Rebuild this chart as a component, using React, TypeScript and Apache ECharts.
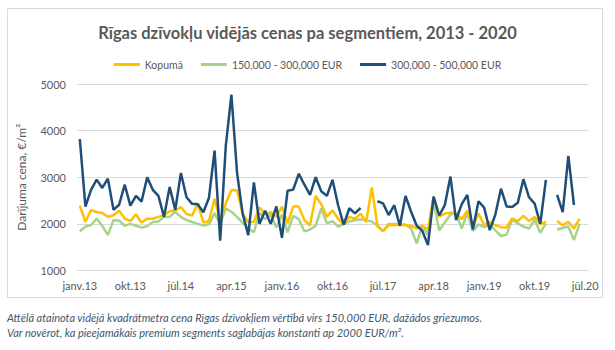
import React, { useEffect, useRef } from "react";
import * as echarts from "echarts";

const monthNames = ["janv.", "febr.", "marts", "apr.", "maijs", "jūn.", "jūl.", "aug.", "sept.", "okt.", "nov.", "dec."];
const yearNames = ["13", "14", "15", "16", "17", "18", "19", "20"];
const monthCount = 91;

const categories: string[] = [];
for (const y of yearNames) {
  for (const m of monthNames) {
    if (categories.length < monthCount) categories.push(m + y);
  }
}

const seriesNames = ["Kopumā", "150,000 - 300,000 EUR", "300,000 - 500,000 EUR"];

const kopuma = [
  2390, 2045, 2295, 2255, 2235, 2150, 2185, 2280, 2115, 2060, 2205, 2025, 2115, 2110, 2150,
  2185, 2270, 2290, 2360, 2210, 2180, 2440, 2030, 2060, 2540, 2080, 2440, 2720, 2720, 2220,
  2040, 2040, 2350, 2210, 2250, 2150, 2370, 2010, 2370, 2370, 2080, 1965, 2600, 2420, 2155,
  2290, 2110, 1990, 2150, 2110, 2220, 2040, 2780, 1960, 1845, 1970, 1975, 1975, 1970, 1960,
  1900, 1960, 1880, 2580, 2155, 2220, 2245, 2230, 2100, 2280, 1960, 2220, 1980, 2040, 1970,
  1930, 1920, 2120, 2060, 2170, 2060, 2150, 1990, 2050, null, 2060, 1970, 2045, 1900, 2110, null,
];

const seg150 = [
  1840, 1940, 1975, 2110, 1960, 1760, 2080, 2070, 1960, 2000, 1960, 1920, 1950, 2040, 2050,
  2150, 2150, 2260, 2150, 2080, 2040, 2000, 1965, 1990, 2230, 2000, 2330, 2260, 2150, 2020,
  1900, 1820, 2240, 2100, 2200, 1920, 2200, 1820, 2170, 2100, 1840, 1880, 1960, 2330, 2010,
  2060, 1940, 2000, 2050, 2080, 2100, 2080, 2050, 1960, 1840, 2000, 2000, 2000, 1980, 1900,
  1580, 1960, 1760, 2480, 1860, 2030, 2200, 2230, 1900, 2230, 1850, 1990, 1930, 1990, 1860,
  1740, 1770, 2090, 2010, 1940, 1900, 2090, 1810, 2010, null, 1880, 1910, 1945, 1655, 2000, null,
];

const seg300 = [
  3820, 2370, 2730, 2950, 2770, 2970, 2300, 2410, 2840, 2390, 2600, 2480, 3000, 2730, 2600,
  2150, 2790, 2300, 3090, 2570, 2430, 2420, 2250, 2560, 3570, 1640, 3680, 4770, 3100, 2220,
  1760, 2890, 2000, 2280, 2000, 2375, 1700, 2710, 2735, 3075, 2840, 2620, 3000, 2700, 2600,
  2945, 2400, 1985, 2335, 2225, 2340, null, null, 2485, 2440, 2190, 2400, 1960, 2600, 2260,
  1960, 1850, 1545, 2585, 2180, 2400, 3015, 2080, 2420, 2620, 1880, 2485, 2350, 1865, 2200,
  2755, 2375, 2360, 2455, 2958, 2570, 2433, 2003, 2944, null, 2620, 2250, 3460, 2405, null, null,
];

const yTicks = { min: 1000, max: 5000, interval: 1000 };

const colors = ["#FFC000", "#A9D18E", "#1F4E79"];

export default function App() {
  const ref = useRef<HTMLDivElement>(null);
  useEffect(() => {
    if (!ref.current) return;
    const chart = echarts.init(ref.current, null, { renderer: "svg" });
    const gray = "#595959";
    chart.setOption({
      animation: false,
      backgroundColor: "#ffffff",
      color: colors,
      title: {
        text: "Rīgas dzīvokļu vidējās cenas pa segmentiem, 2013 - 2020",
        left: "center",
        top: 19,
        textStyle: { fontFamily: "Lato", fontWeight: "bold", fontSize: 16.5, color: gray },
      },
      legend: {
        top: 54,
        left: "center",
        itemWidth: 26,
        itemHeight: 3,
        itemGap: 18,
        icon: "rect",
        textStyle: { fontFamily: "Lato", fontSize: 10.5, color: gray },
        data: seriesNames,
      },
      grid: { left: 77, right: 27, top: 84, bottom: 79.5 },
      xAxis: {
        type: "category",
        data: categories,
        boundaryGap: true,
        axisLine: { lineStyle: { color: "#d9d9d9" } },
        axisTick: { interval: 8, length: 5, lineStyle: { color: "#d9d9d9" } },
        axisLabel: { interval: 8, fontFamily: "Lato", fontSize: 11, color: gray, margin: 9 },
      },
      yAxis: {
        type: "value",
        min: yTicks.min,
        max: yTicks.max,
        interval: yTicks.interval,
        name: "Darījuma cena, €/m²",
        nameLocation: "middle",
        nameGap: 50,
        nameTextStyle: { fontFamily: "Lato", fontSize: 12, color: gray },
        axisLine: { show: false },
        axisTick: { show: false },
        axisLabel: {
          fontFamily: "Lato",
          fontSize: 11,
          color: gray,
          margin: 11,
          formatter: (v: number) => String(v),
        },
        splitLine: { lineStyle: { color: "#d9d9d9" } },
      },
      series: [
        { name: seriesNames[0], type: "line", data: kopuma, symbol: "none", lineStyle: { width: 2.5 }, z: 3 },
        { name: seriesNames[1], type: "line", data: seg150, symbol: "none", lineStyle: { width: 2.5 }, z: 2 },
        { name: seriesNames[2], type: "line", data: seg300, symbol: "none", lineStyle: { width: 2.5 }, z: 4 },
      ],
      graphic: [
        {
          type: "rect",
          shape: { x: 7.5, y: 8.5, width: 595, height: 289 },
          style: { fill: "none", stroke: "#d9d9d9", lineWidth: 1 },
          z: -10,
        },
        {
          type: "text",
          left: 7,
          top: 312,
          style: {
            text: "Attēlā atainota vidējā kvadrātmetra cena Rīgas dzīvokļiem vērtībā virs 150,000 EUR, dažādos griezumos.",
            fontFamily: "Lato",
            fontStyle: "italic",
            fontSize: 11,
            fill: "#44546A",
          },
        },
        {
          type: "text",
          left: 7,
          top: 327,
          style: {
            text: "Var novērot, ka pieejamākais premium segments saglabājas konstanti ap 2000 EUR/m².",
            fontFamily: "Lato",
            fontStyle: "italic",
            fontSize: 11,
            fill: "#44546A",
          },
        },
      ],
    });
    return () => chart.dispose();
  }, []);
  return (
    <div
      ref={ref}
      style={{ position: "absolute", left: 0, top: 0, width: 615, height: 350 }}
    />
  );
}
